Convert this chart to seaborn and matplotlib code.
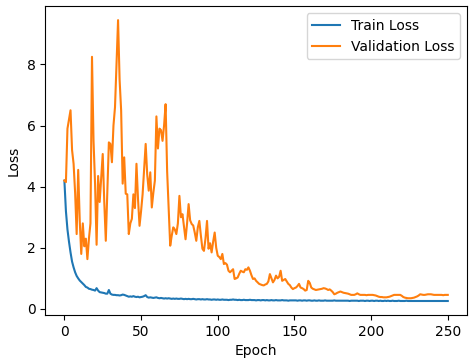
import numpy as np
import pandas as pd
import seaborn as sns
import matplotlib
matplotlib.use('Agg')
import matplotlib.pyplot as plt

# Perdas por época
train_loss = [
    4.2, 3.2, 2.6, 2.2, 1.85, 1.55, 1.36, 1.2, 1.08, 1.0,
    0.93, 0.88, 0.83, 0.78, 0.72, 0.7, 0.66, 0.65, 0.63, 0.62,
    0.6, 0.68, 0.6, 0.55, 0.54, 0.53, 0.52, 0.5, 0.5, 0.62,
    0.5, 0.47, 0.46, 0.46, 0.45, 0.45, 0.44, 0.45, 0.47, 0.46,
    0.44, 0.42, 0.4, 0.41, 0.4, 0.42, 0.4, 0.39, 0.4, 0.38,
    0.39, 0.4, 0.42, 0.45, 0.39, 0.37, 0.38, 0.37, 0.36, 0.37,
    0.38, 0.36, 0.35, 0.36, 0.35, 0.34, 0.35, 0.34, 0.35, 0.34,
    0.33, 0.34, 0.33, 0.34, 0.33, 0.33, 0.34, 0.33, 0.32, 0.33,
    0.32, 0.33, 0.32, 0.32, 0.33, 0.32, 0.31, 0.32, 0.32, 0.31,
    0.32, 0.31, 0.31, 0.32, 0.31, 0.31, 0.3, 0.31, 0.31, 0.3,
    0.31, 0.3, 0.3, 0.31, 0.3, 0.3, 0.3, 0.29, 0.3, 0.3,
    0.31, 0.3, 0.3, 0.29, 0.3, 0.29, 0.29, 0.3, 0.29, 0.29,
    0.29, 0.3, 0.29, 0.29, 0.29, 0.28, 0.29, 0.29, 0.28, 0.29,
    0.29, 0.28, 0.29, 0.28, 0.28, 0.29, 0.28, 0.28, 0.29, 0.28,
    0.28, 0.28, 0.29, 0.28, 0.28, 0.28, 0.27, 0.28, 0.28, 0.28,
    0.28, 0.28, 0.27, 0.28, 0.28, 0.27, 0.28, 0.28, 0.27, 0.28,
    0.28, 0.27, 0.27, 0.28, 0.27, 0.27, 0.28, 0.27, 0.27, 0.27,
    0.28, 0.27, 0.27, 0.27, 0.27, 0.27, 0.28, 0.27, 0.27, 0.27,
    0.27, 0.27, 0.27, 0.27, 0.27, 0.27, 0.26, 0.27, 0.27, 0.27,
    0.27, 0.27, 0.26, 0.27, 0.27, 0.27, 0.26, 0.27, 0.27, 0.26,
    0.27, 0.27, 0.26, 0.27, 0.27, 0.26, 0.27, 0.26, 0.26, 0.27,
    0.26, 0.27, 0.26, 0.26, 0.27, 0.26, 0.26, 0.26, 0.27, 0.26,
    0.26, 0.26, 0.26, 0.27, 0.26, 0.26, 0.26, 0.26, 0.26, 0.26,
    0.26, 0.26, 0.26, 0.26, 0.26, 0.26, 0.26, 0.26, 0.26, 0.26,
    0.26, 0.26, 0.26, 0.26, 0.26, 0.26, 0.26, 0.26, 0.26, 0.26,
    0.26,
]

val_loss = [
    4.2, 4.15, 5.9, 6.2, 6.5, 5.2, 4.75, 3.8, 2.45, 4.55,
    2.9, 1.8, 2.8, 2.05, 2.3, 1.63, 2.3, 2.8, 8.25, 5.5,
    4.1, 2.1, 4.35, 3.5, 4.3, 5.07, 3.5, 2.23, 3.9, 5.45,
    5.4, 4.8, 6.0, 6.6, 8.0, 9.45, 7.5, 6.5, 4.1, 4.96,
    3.77, 3.75, 2.45, 2.8, 2.95, 3.75, 3.3, 4.75, 3.6, 2.72,
    3.2, 3.75, 4.6, 5.4, 4.4, 3.87, 4.47, 3.32, 3.8, 4.2,
    6.3, 5.25, 5.9, 5.85, 5.5, 6.0, 6.7, 4.5, 3.32, 2.07,
    2.4, 2.67, 2.6, 2.45, 2.8, 3.7, 3.0, 3.1, 2.7, 2.28,
    2.8, 3.43, 2.9, 2.78, 2.73, 2.5, 2.23, 2.67, 2.88, 2.4,
    1.97, 1.9, 2.3, 2.88, 1.97, 2.15, 1.85, 2.2, 2.5, 2.0,
    1.74, 1.7, 1.63, 1.8, 1.47, 1.5, 1.45, 1.25, 1.2, 1.25,
    1.3, 0.98, 1.0, 1.03, 1.15, 1.25, 1.22, 1.2, 1.3, 1.28,
    1.36, 1.25, 1.1, 0.98, 1.0, 0.92, 0.87, 0.82, 0.8, 0.78,
    0.77, 0.8, 0.82, 0.9, 1.14, 1.0, 0.87, 0.95, 1.09, 1.0,
    1.05, 1.25, 0.92, 0.95, 0.98, 0.9, 0.82, 0.78, 0.7, 0.65,
    0.68, 0.7, 0.75, 0.82, 0.7, 0.68, 0.65, 0.6, 0.62, 0.92,
    0.85, 0.7, 0.66, 0.64, 0.62, 0.63, 0.64, 0.65, 0.66, 0.68,
    0.67, 0.65, 0.62, 0.64, 0.6, 0.55, 0.48, 0.5, 0.53, 0.55,
    0.57, 0.55, 0.53, 0.52, 0.51, 0.5, 0.48, 0.46, 0.46, 0.46,
    0.48, 0.51, 0.48, 0.46, 0.46, 0.46, 0.46, 0.45, 0.46, 0.46,
    0.46, 0.46, 0.45, 0.44, 0.42, 0.4, 0.39, 0.39, 0.38, 0.38,
    0.38, 0.39, 0.4, 0.42, 0.44, 0.46, 0.46, 0.46, 0.46, 0.46,
    0.43, 0.39, 0.37, 0.36, 0.35, 0.35, 0.35, 0.36, 0.37, 0.39,
    0.41, 0.44, 0.48, 0.47, 0.46, 0.46, 0.47, 0.48, 0.48, 0.48,
    0.47, 0.46, 0.46, 0.46, 0.46, 0.46, 0.46, 0.45, 0.46, 0.46,
    0.46,
]

epochs = list(range(len(train_loss)))

df = pd.DataFrame({'epoch': epochs, 'train': train_loss, 'val': val_loss})

fig, ax = plt.subplots(figsize=(4.76, 3.58), dpi=100)
sns.lineplot(data=df, x='epoch', y='train', ax=ax, label='Train Loss', color='tab:blue')
sns.lineplot(data=df, x='epoch', y='val', ax=ax, label='Validation Loss', color='tab:orange')

# rótulos e legenda
ax.set_xlabel('Epoch')
ax.set_ylabel('Loss')
ax.legend(loc='upper right')

# margens para bater com a referência
fig.subplots_adjust(left=0.095, right=0.981, top=0.983, bottom=0.12)
plt.savefig('out.png', dpi=100)
